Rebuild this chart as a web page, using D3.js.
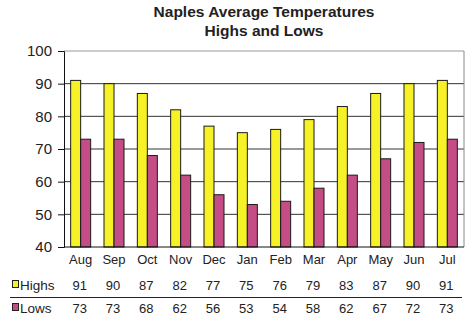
<!DOCTYPE html>
<html><head><meta charset="utf-8">
<script src="https://cdn.jsdelivr.net/npm/d3@7"></script>
<style>body{margin:0;background:#fff}svg{display:block;font-family:"Liberation Sans",Arial,sans-serif}</style>
</head><body><svg id="c" width="474" height="323"></svg>
<script>
const months = ["Aug","Sep","Oct","Nov","Dec","Jan","Feb","Mar","Apr","May","Jun","Jul"];
const highs = [91,90,87,82,77,75,76,79,83,87,90,91];
const lows = [73,73,68,62,56,53,54,58,62,67,72,73];
const yTicks = [40,50,60,70,80,90,100];
const seriesNames = ["Highs","Lows"];
const colors = ["#f7f227","#c44d86"];

const svg = d3.select("#c");
const L = 64, R = 464, T = 51, B = 247;
const x = d3.scaleBand().domain(months).range([L,R]);
const y = d3.scaleLinear().domain([40,100]).range([B,T]);
const sub = d3.scaleBand().domain(seriesNames).range([0,20]);
const off = (x.bandwidth()-20)/2;

svg.append("text").attr("x",264).attr("y",17).attr("text-anchor","middle")
  .attr("font-size",15.5).attr("font-weight","bold").attr("fill","#222").text("Naples Average Temperatures");
svg.append("text").attr("x",264).attr("y",35.5).attr("text-anchor","middle")
  .attr("font-size",15.5).attr("font-weight","bold").attr("fill","#222").text("Highs and Lows");

// gridlines
svg.append("g").selectAll("line").data(yTicks.filter(d=>d>40)).join("line")
  .attr("x1",L).attr("x2",R).attr("y1",d=>y(d)).attr("y2",d=>y(d))
  .attr("stroke",d=>d===100?"#999":"#333").attr("stroke-width",1);
svg.append("line").attr("x1",R).attr("x2",R).attr("y1",T).attr("y2",B).attr("stroke","#888");

// bars
const data = months.map((m,i)=>({m, v:[highs[i],lows[i]]}));
const g = svg.append("g").selectAll("g").data(data).join("g")
  .attr("transform",d=>`translate(${x(d.m)+off},0)`);
g.selectAll("rect").data(d=>d.v.map((v,j)=>({v,j}))).join("rect")
  .attr("x",d=>sub(seriesNames[d.j])).attr("width",sub.bandwidth())
  .attr("y",d=>y(d.v)).attr("height",d=>B-y(d.v))
  .attr("fill",d=>colors[d.j]).attr("stroke","#1a1a1a").attr("stroke-width",1);

// axes
const ya = d3.axisLeft(y).tickValues(yTicks).tickSize(6).tickPadding(6);
svg.append("g").attr("transform",`translate(${L},0)`).call(ya)
  .call(s=>s.selectAll("text").attr("font-size",15).attr("fill","#222").attr("font-family","Liberation Sans, Arial"))
  .call(s=>s.selectAll("line,path").attr("stroke","#111"));
svg.append("line").attr("x1",L).attr("x2",R).attr("y1",B).attr("y2",B).attr("stroke","#111");

const xa = d3.axisBottom(x).tickSize(0).tickPadding(8);
svg.append("g").attr("transform",`translate(0,${B})`).call(xa)
  .call(s=>s.select(".domain").remove())
  .call(s=>s.selectAll("text").attr("font-size",13).attr("fill","#222").attr("font-family","Liberation Sans, Arial"));

// data table
const rowsY = [290, 313];
[highs,lows].forEach((arr,j)=>{
  svg.append("rect").attr("x",12.5).attr("y",rowsY[j]-9.5).attr("width",6).attr("height",7)
    .attr("fill",colors[j]).attr("stroke","#222");
  svg.append("text").attr("x",20).attr("y",rowsY[j]).attr("font-size",13.5).attr("fill","#222").text(seriesNames[j]);
  svg.append("g").selectAll("text").data(arr).join("text")
    .attr("x",(d,i)=>x(months[i])+x.bandwidth()/2 - 1).attr("y",rowsY[j])
    .attr("text-anchor","middle").attr("font-size",13).attr("fill","#222").text(d=>d);
});
svg.append("line").attr("x1",10).attr("x2",462).attr("y1",297.5).attr("y2",297.5).attr("stroke","#222");
</script></body></html>
